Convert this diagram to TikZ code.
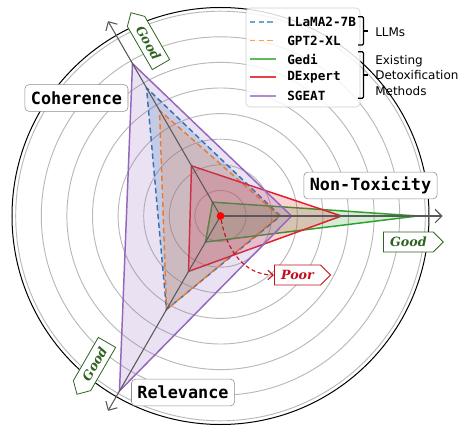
\documentclass[tikz,border=0pt]{standalone}
\usepackage{fontspec}
\setmainfont{DejaVu Sans}
\setmonofont{DejaVu Sans Mono}
\newfontfamily\tagfont{DejaVu Serif}
\usepackage{tikz}
\usetikzlibrary{arrows.meta,shapes.symbols}

\definecolor{llamablue}{HTML}{1F77B4}
\definecolor{gptorange}{HTML}{FF7F0E}
\definecolor{gedigreen}{HTML}{2CA02C}
\definecolor{dexred}{HTML}{E0202A}
\definecolor{sgeatpurple}{HTML}{9467BD}
\definecolor{goodgreen}{HTML}{2F6420}
\definecolor{poorred}{HTML}{C0101A}

\begin{document}
\begin{tikzpicture}[x=0.75pt,y=0.75pt,
  ring/.style={draw=black!28,line width=0.7pt},
  radial/.style={draw=black!65,line width=0.8pt,-{Straight Barb[length=5pt,width=10pt]}},
  axislabel/.style={draw=black!45,fill=white,rounded corners=3pt,inner xsep=4.5pt,minimum height=20pt,
    font=\ttfamily\bfseries\fontsize{12.6}{14}\selectfont},
  goodtag/.style={signal,signal to=east,draw=goodgreen,fill=white,text=goodgreen,line width=0.6pt,
    inner xsep=5pt,minimum height=15pt,font=\tagfont\bfseries\itshape\fontsize{9.5}{11}\selectfont},
  poortag/.style={goodtag,draw=poorred,text=poorred},
  series/.style={line width=1.1pt,fill opacity=0.2},
  dashedseries/.style={series,dash pattern=on 4pt off 2.5pt},
  legline/.style={line width=1.2pt},
  legtext/.style={anchor=west,inner sep=0pt,font=\ttfamily\bfseries\fontsize{9.5}{11}\selectfont},
  bracket/.style={draw=black,line width=0.9pt,rounded corners=1pt}]
\useasboundingbox (-220.5,-212) rectangle (238.5,216);
% grid rings
\draw[ring] (0,0) circle (25.6);
\draw[ring] (0,0) circle (51.2);
\draw[ring] (0,0) circle (76.8);
\draw[ring] (0,0) circle (102.4);
\draw[ring] (0,0) circle (128);
\draw[ring] (0,0) circle (153.6);
\draw[ring] (0,0) circle (179.2);
\draw[ring] (0,0) circle (204.8);
\draw[black,line width=0.75pt] (0,0) circle (208.5);

% series
\filldraw[dashedseries,draw=llamablue,fill=llamablue] (0:60) -- (120:148) -- (240:108) -- cycle;
\filldraw[dashedseries,draw=gptorange,fill=gptorange] (0:59) -- (120:122) -- (240:108) -- cycle;
\filldraw[series,draw=gedigreen,fill=gedigreen] (0:197) -- (120:16) -- (240:30) -- cycle;
\filldraw[series,draw=dexred,fill=dexred] (0:121) -- (120:58) -- (240:64) -- cycle;
\filldraw[series,draw=sgeatpurple,fill=sgeatpurple] (0:71) -- (120:176) -- (240:202) -- cycle;

% axes
\coordinate (o) at (0,0);
\coordinate (ntox) at (0:222);
\coordinate (coh) at (120:225);
\coordinate (rel) at (240:225);
\draw[radial] (o) -- (ntox);
\draw[radial] (o) -- (coh);
\draw[radial] (o) -- (rel);

\node[axislabel] (cohlabel) at (-144,118) {Coherence};
\node[axislabel] (ntoxlabel) at (150,30.5) {Non-Toxicity};
\node[axislabel] (rellabel) at (-37.5,-176.5) {Relevance};

\node[goodtag,anchor=west] (goodntox) at (162.5,-26) {Good};
\node[goodtag,signal to=west,rotate=-60] (goodcoh) at (-72,173) {Good};
\node[goodtag,signal to=west,rotate=60] (goodrel) at (-126,-148) {Good};

% poor
\node[circle,fill=red,inner sep=0pt,minimum size=5.8pt] (dot) at (o) {};
\node[poortag,anchor=west] (poor) at (53.5,-59) {Poor};
\draw[poorred,line width=0.8pt,dash pattern=on 3pt off 2pt,-{Straight Barb[length=4pt,width=7pt]}]
  (dot) to[out=-80,in=180] (poor.west);

% legend
\node[draw=black!20,fill=white,fill opacity=0.85,rounded corners=3pt,minimum width=85.5pt,minimum height=74.25pt] (legend) at (82.5,158.5) {};
\draw[legline,draw=llamablue!65!white,dash pattern=on 4pt off 2.5pt] (29.5,194) -- (55.5,194);
\draw[legline,draw=gptorange!75!white,dash pattern=on 4pt off 2.5pt] (29.5,175.5) -- (55.5,175.5);
\draw[legline,draw=gedigreen!75!white] (29.5,157) -- (55.5,157);
\draw[legline,draw=dexred!85!white] (29.5,139) -- (55.5,139);
\draw[legline,draw=sgeatpurple!75!white] (29.5,120) -- (55.5,120);
\node[legtext] (llama) at (66.5,194) {LLaMA2-7B};
\node[legtext] (gpt) at (66.5,175.5) {GPT2-XL};
\node[legtext] (gedi) at (66.5,157) {Gedi};
\node[legtext] (dexpert) at (66.5,139) {DExpert};
\node[legtext] (sgeat) at (66.5,120) {SGEAT};

% groups
\draw[bracket] (137.5,199.3) -- (143,199.3) -- (143,171) -- (137.5,171);
\draw[bracket] (143,185) -- (147.5,185);
\draw[bracket] (137.5,164.3) -- (143,164.3) -- (143,117.7) -- (137.5,117.7);
\draw[bracket] (143,141) -- (147.5,141);
\node[anchor=west,inner sep=0pt,font=\fontsize{9}{11.6}\selectfont] (llms) at (154.5,184) {LLMs};
\node[anchor=west,inner sep=0pt,align=left,font=\fontsize{9}{11.6}\selectfont] (detox) at (154.5,140.5) {Existing\\Detoxification\\Methods};
\end{tikzpicture}
\end{document}
